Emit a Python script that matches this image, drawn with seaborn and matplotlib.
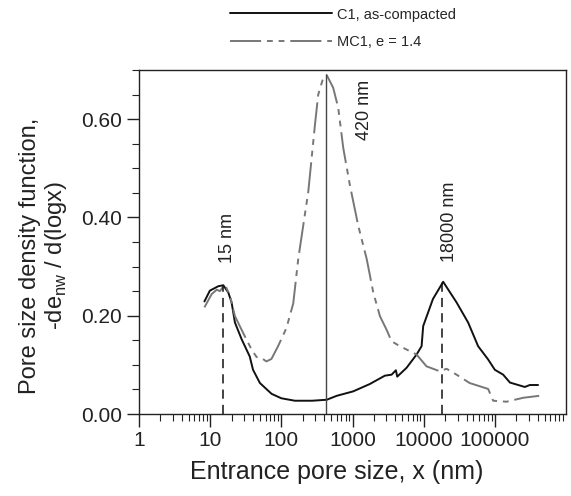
import numpy as np
import pandas as pd
import seaborn as sns
import matplotlib.pyplot as plt
from matplotlib.ticker import MultipleLocator, LogLocator, NullFormatter

# C1, as-compacted (black solid)
c1_x = [8.3, 9.9, 13, 15.3, 18, 20, 22.3, 27.7, 36, 40, 50, 73, 100, 155, 270, 435,
        600, 1020, 1750, 2850, 3540, 4070, 4250, 5750, 7950, 9350, 9850, 11500, 13500,
        18800, 29000, 42200, 58200, 80500, 100000, 131000, 163000, 213000, 264000, 310000, 405000]
c1_y = [0.229, 0.251, 0.260, 0.262, 0.247, 0.227, 0.186, 0.152, 0.117, 0.090, 0.063, 0.041, 0.032, 0.027, 0.027, 0.029,
        0.037, 0.046, 0.061, 0.078, 0.080, 0.089, 0.076, 0.094, 0.121, 0.138, 0.179, 0.206, 0.234,
        0.269, 0.227, 0.186, 0.138, 0.111, 0.090, 0.080, 0.064, 0.059, 0.055, 0.059, 0.059]

# MC1, e = 1.4 (grey dash-dot)
mc1_x = [8.3, 10.5, 12.4, 13.7, 16.1, 19, 22.3, 30.7, 38.3, 44.8, 52.6, 61.6, 72.6, 90, 118, 147,
         173, 239, 297, 330, 388, 433, 535, 630, 742, 918, 1200, 1580, 1960, 2430, 3000, 3540,
         4630, 7950, 10970, 16800, 21000, 29000, 44300, 80500, 94700, 146000, 250000, 420000]
mc1_y = [0.217, 0.244, 0.253, 0.250, 0.264, 0.240, 0.199, 0.158, 0.131, 0.116, 0.114, 0.107, 0.112, 0.138, 0.175, 0.225,
         0.316, 0.452, 0.589, 0.650, 0.684, 0.690, 0.664, 0.623, 0.541, 0.466, 0.384, 0.316, 0.247, 0.199, 0.172, 0.148,
         0.138, 0.121, 0.097, 0.087, 0.092, 0.080, 0.063, 0.051, 0.027, 0.025, 0.033, 0.037]

# marked peaks
peak_x = [15, 420, 18000]
peak_y = [0.262, 0.690, 0.269]
peak_labels = ["15 nm", "420 nm", "18000 nm"]

sns.set_style("ticks")
plt.rcParams['font.family'] = ['Liberation Sans', 'DejaVu Sans']
plt.rcParams['mathtext.fontset'] = 'custom'
plt.rcParams['mathtext.rm'] = 'Liberation Sans'
txt = '#222222'

df = pd.concat([
    pd.DataFrame({'x': c1_x, 'y': c1_y, 'series': 'C1, as-compacted'}),
    pd.DataFrame({'x': mc1_x, 'y': mc1_y, 'series': 'MC1, e = 1.4'}),
])

fig = plt.figure(figsize=(5.71, 4.96), dpi=100)
ax = fig.add_axes([139 / 571, 1 - 414 / 496, 427 / 571, 344 / 496])

sns.lineplot(data=df, x='x', y='y', hue='series', style='series',
             palette={'C1, as-compacted': '#111111', 'MC1, e = 1.4': '#777777'},
             dashes={'C1, as-compacted': '', 'MC1, e = 1.4': (16, 3, 3, 3, 3, 3)},
             linewidth=1.4, sort=False, ax=ax, legend=True)

# vertical markers at peaks
ax.plot([peak_x[0]] * 2, [0, peak_y[0]], color='#111111', lw=1.1, dashes=(6, 4))
ax.plot([peak_x[1]] * 2, [0, peak_y[1]], color='#444444', lw=1.0)
ax.plot([peak_x[2]] * 2, [0, peak_y[2]], color='#111111', lw=1.1, dashes=(6, 4))

ax.text(peak_x[0] * 1.15, 0.308, peak_labels[0], rotation=90, ha='center', va='bottom', fontsize=13, color=txt)
ax.text(peak_x[1] * 3.55, 0.558, peak_labels[1], rotation=90, ha='center', va='bottom', fontsize=13, color=txt)
ax.text(peak_x[2] * 1.3, 0.310, peak_labels[2], rotation=90, ha='center', va='bottom', fontsize=13, color=txt)

ax.set_xscale('log')
ax.set_xlim(1, 1e6)
ax.set_ylim(0, 0.70)
ax.set_xticks([1, 10, 100, 1000, 10000, 100000])
ax.set_xticklabels(['1', '10', '100', '1000', '10000', '100000'])
ax.xaxis.set_minor_locator(LogLocator(base=10, subs=np.arange(2, 10)))
ax.xaxis.set_minor_formatter(NullFormatter())
ax.set_yticks([0, 0.2, 0.4, 0.6])
ax.set_yticklabels(['0.00', '0.20', '0.40', '0.60'])
ax.yaxis.set_minor_locator(MultipleLocator(0.05))

ax.tick_params(which='major', direction='out', length=9, width=1, labelsize=15, colors=txt, pad=3)
ax.tick_params(which='minor', direction='out', length=5, width=0.8, colors=txt)
for s in ax.spines.values():
    s.set_visible(True)
    s.set_linewidth(1.0)
    s.set_color('#222222')

ax.set_xlabel('Entrance pore size, x (nm)', fontsize=18, color=txt)
ax.set_ylabel('Pore size density function,\n-de$_\\mathregular{nw}$ / d(logx)', fontsize=17, color=txt,
              linespacing=1.1)
ax.xaxis.set_label_coords(0.464, -0.135)
ax.yaxis.set_label_coords(-0.165, 0.46)

handles, labels = ax.get_legend_handles_labels()
ax.legend(handles, labels, loc='lower left', bbox_to_anchor=(0.2, 1.045), frameon=False,
          fontsize=10.5, handlelength=7.0, handletextpad=0.3, labelspacing=0.9, borderaxespad=0)

plt.savefig('out.png', dpi=100)
